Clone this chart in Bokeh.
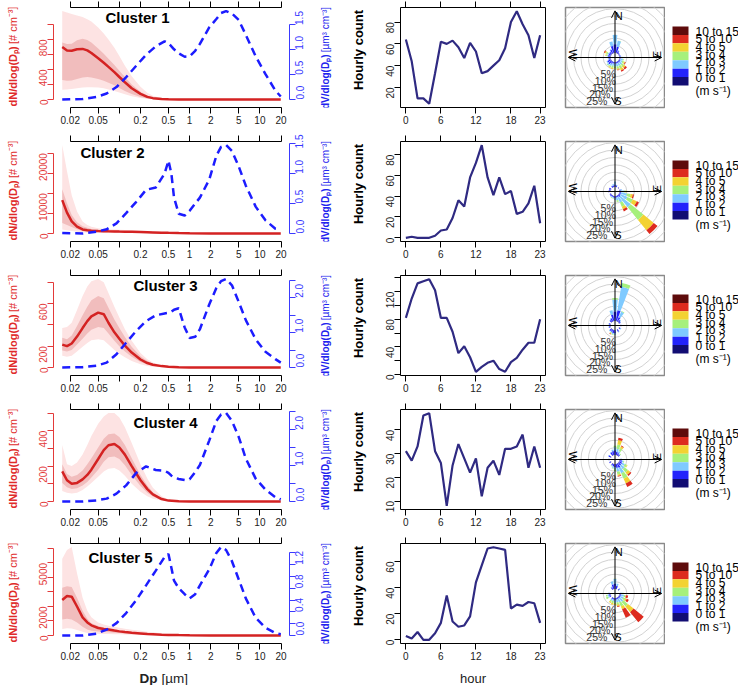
import math
from bokeh.plotting import figure
from bokeh.models import (Range1d, LinearAxis, LogAxis, FixedTicker, Label,
                          Arrow, OpenHead, ColumnDataSource)
from bokeh.layouts import row, column
from bokeh.embed import file_html
from bokeh.resources import INLINE
from bokeh.core.properties import value

FONT = "Liberation Sans"

# ---------------- number size distributions (dN/dlogDp, # cm-3) ----------------
DP = [0.0154, 0.018, 0.021, 0.025, 0.03, 0.035, 0.04, 0.05, 0.06, 0.07, 0.085, 0.1,
      0.12, 0.15, 0.2, 0.25, 0.3, 0.4, 0.5, 0.7, 1.0, 2.0, 5.0, 10.0, 19.8]

N_MEDIAN = [
    [700, 655, 650, 670, 675, 655, 620, 550, 490, 435, 365, 300, 230, 150, 75, 35, 18, 7, 3, 1, 0, 0, 0, 0, 0],
    [8300, 5200, 3000, 1700, 1000, 800, 700, 620, 580, 550, 520, 490, 460, 420, 360, 310, 270, 210, 160, 100, 55, 12, 2, 0, 0],
    [215, 200, 225, 290, 370, 435, 480, 515, 500, 420, 330, 270, 205, 140, 75, 42, 26, 13, 7, 2, 0, 0, 0, 0, 0],
    [170, 120, 100, 105, 125, 150, 180, 240, 290, 318, 325, 305, 265, 200, 120, 70, 40, 14, 5, 1, 0, 0, 0, 0, 0],
    [2450, 2720, 2680, 2000, 1250, 900, 700, 520, 450, 410, 340, 285, 240, 190, 140, 100, 85, 60, 42, 30, 20, 8, 2, 0, 0],
]
N_INNER_HI = [
    [760, 740, 745, 790, 810, 795, 760, 680, 610, 545, 460, 385, 300, 200, 105, 52, 28, 10, 4, 1, 0, 0, 0, 0, 0],
    [11000, 7500, 4600, 2800, 1800, 1400, 1150, 950, 860, 800, 750, 700, 650, 580, 500, 430, 370, 290, 220, 140, 75, 18, 3, 0, 0],
    [280, 265, 300, 390, 490, 570, 630, 670, 650, 560, 450, 370, 285, 195, 105, 60, 36, 17, 9, 3, 0, 0, 0, 0, 0],
    [210, 155, 140, 150, 175, 210, 245, 305, 355, 380, 385, 365, 320, 245, 150, 90, 52, 19, 7, 1, 0, 0, 0, 0, 0],
    [3300, 3400, 3350, 2600, 1700, 1150, 850, 650, 560, 500, 420, 360, 300, 240, 180, 130, 105, 75, 55, 35, 25, 10, 3, 0, 0],
]
N_INNER_LO = [
    [260, 250, 255, 275, 295, 300, 295, 275, 250, 225, 190, 155, 115, 75, 35, 15, 7, 2, 1, 0, 0, 0, 0, 0, 0],
    [2600, 2100, 1600, 1050, 650, 480, 400, 350, 330, 320, 310, 300, 280, 250, 210, 180, 150, 110, 80, 50, 25, 5, 0, 0, 0],
    [160, 150, 165, 215, 270, 320, 355, 380, 370, 320, 250, 200, 150, 100, 52, 28, 16, 7, 3, 1, 0, 0, 0, 0, 0],
    [105, 80, 70, 75, 90, 110, 135, 180, 225, 250, 255, 240, 205, 150, 88, 50, 28, 9, 3, 0, 0, 0, 0, 0, 0],
    [1100, 1150, 1100, 900, 600, 420, 330, 270, 240, 220, 190, 170, 140, 115, 85, 60, 50, 35, 25, 15, 8, 2, 0, 0, 0],
]
N_OUTER_HI = [
    [1180, 1160, 1140, 1120, 1100, 1070, 1040, 960, 880, 800, 690, 580, 450, 310, 170, 90, 50, 18, 7, 2, 0, 0, 0, 0, 0],
    [22000, 15500, 9500, 5500, 3000, 2100, 1700, 1300, 1150, 1050, 980, 920, 850, 760, 650, 560, 480, 370, 290, 180, 100, 25, 4, 0, 0],
    [370, 380, 420, 540, 670, 760, 810, 830, 800, 700, 570, 470, 360, 250, 135, 78, 46, 22, 11, 3, 0, 0, 0, 0, 0],
    [320, 210, 200, 220, 265, 320, 370, 440, 480, 500, 500, 475, 420, 330, 210, 130, 78, 30, 11, 2, 0, 0, 0, 0, 0],
    [5300, 5900, 6100, 4300, 2600, 1700, 1250, 900, 750, 680, 600, 540, 470, 400, 330, 260, 220, 160, 120, 80, 55, 20, 5, 0, 0],
]
N_OUTER_LO = [
    [130, 135, 140, 150, 160, 165, 165, 160, 150, 135, 115, 95, 70, 45, 20, 9, 4, 1, 0, 0, 0, 0, 0, 0, 0],
    [1000, 800, 600, 420, 300, 240, 210, 190, 180, 170, 160, 150, 140, 120, 100, 80, 65, 45, 30, 15, 5, 0, 0, 0, 0],
    [110, 100, 110, 150, 195, 230, 255, 265, 255, 215, 165, 130, 95, 60, 30, 15, 8, 3, 1, 0, 0, 0, 0, 0, 0],
    [60, 50, 45, 50, 65, 85, 105, 140, 170, 185, 190, 175, 145, 100, 55, 30, 16, 5, 2, 0, 0, 0, 0, 0, 0],
    [450, 500, 480, 380, 250, 180, 140, 120, 110, 100, 90, 80, 70, 55, 40, 30, 25, 15, 10, 5, 2, 0, 0, 0, 0],
]

# ---------------- volume size distributions (dV/dlogDp, um3 cm-3) ----------------
DPV = [0.0154, 0.03, 0.047, 0.066, 0.091, 0.125, 0.174, 0.24, 0.33, 0.44, 0.5, 0.55, 0.6, 0.7,
       0.85, 1.0, 1.2, 1.4, 1.9, 2.4, 2.8, 3.3, 4.0, 5.0, 6.3, 8.7, 12.0, 16.6, 19.8]
V_MEAN = [
    [0.0, 0.01, 0.05, 0.12, 0.25, 0.45, 0.68, 0.9, 1.07, 1.17, 1.13, 1.07, 1.01, 0.93, 0.86, 0.87, 0.98, 1.12, 1.45, 1.62, 1.74, 1.78, 1.73, 1.6, 1.3, 0.87, 0.51, 0.18, 0.06],
    [0.01, 0.0, 0.03, 0.07, 0.17, 0.34, 0.53, 0.73, 0.77, 1.0, 1.22, 1.0, 0.6, 0.33, 0.3, 0.38, 0.5, 0.6, 0.9, 1.3, 1.45, 1.48, 1.38, 1.12, 0.8, 0.45, 0.22, 0.08, 0.06],
    [0.0, 0.01, 0.05, 0.14, 0.38, 0.71, 1.05, 1.33, 1.5, 1.55, 1.57, 1.6, 1.66, 1.7, 1.15, 0.85, 0.88, 1.1, 1.81, 2.28, 2.48, 2.54, 2.36, 1.88, 1.36, 0.81, 0.45, 0.24, 0.14],
    [0.0, 0.0, 0.03, 0.08, 0.22, 0.45, 0.8, 0.98, 0.88, 0.86, 0.8, 0.72, 0.67, 0.63, 0.6, 0.62, 0.82, 1.02, 1.7, 2.25, 2.43, 2.47, 2.25, 1.8, 1.2, 0.64, 0.33, 0.12, 0.06],
    [0.0, 0.0, 0.03, 0.1, 0.21, 0.38, 0.6, 0.85, 1.1, 1.33, 1.38, 1.15, 0.93, 0.8, 0.7, 0.63, 0.7, 0.85, 1.12, 1.4, 1.5, 1.45, 1.26, 0.95, 0.63, 0.3, 0.13, 0.04, 0.02],
]

X_TICKS = [0.02, 0.05, 0.1, 0.2, 0.5, 1, 2, 5, 10, 20]
X_LABELS = ["0.02", "0.05", "", "0.2", "0.5", "1", "2", "5", "10", "20"]

RED_TICKS = [[0, 200, 400, 600, 800, 1000], [0, 5000, 10000, 15000, 20000], [0, 200, 400, 600, 800],
             [0, 100, 200, 300, 400, 500], [0, 1000, 2000, 3000, 4000, 5000, 6000]]
RED_LABELS = [["0", "", "400", "", "800", ""], ["0", "", "10000", "", "20000"], ["0", "200", "", "600", ""],
              ["0", "", "200", "", "400", ""], ["0", "", "2000", "", "", "5000", ""]]
BLUE_TICKS = [[0, 0.5, 1.0, 1.5], [0, 0.5, 1.0, 1.5], [0, 0.5, 1.0, 1.5, 2.0, 2.5],
              [0, 0.5, 1.0, 1.5, 2.0, 2.5], [0, 0.2, 0.4, 0.6, 0.8, 1.0, 1.2, 1.4]]
BLUE_LABELS = [["0.0", "0.5", "1.0", "1.5"], ["0.0", "0.5", "1.0", "1.5"], ["0.0", "", "1.0", "", "2.0", ""],
               ["0.0", "", "1.0", "", "2.0", ""], ["0.0", "", "0.4", "", "0.8", "", "1.2", ""]]

CLUSTERS = ["Cluster 1", "Cluster 2", "Cluster 3", "Cluster 4", "Cluster 5"]

# ---------------- diurnal (hourly) counts ----------------
HOURS = list(range(24))
HOURLY = [
    [64, 44, 10, 10, 5, 33, 62, 60, 63, 57, 47, 61, 53, 33, 35, 40, 45, 56, 80, 90, 78, 68, 47, 68],
    [0, 1, 0, 0, 0, 2, 7, 8, 19, 36, 30, 58, 72, 89, 58, 41, 58, 42, 45, 23, 25, 33, 50, 14],
    [82, 110, 132, 135, 138, 122, 82, 82, 62, 31, 41, 25, 4, 11, 17, 20, 8, 4, 18, 24, 36, 46, 46, 80],
    [31, 27, 33, 46, 47, 31, 26, 8, 25, 34, 28, 22, 28, 12, 24, 27, 21, 32, 32, 33, 38, 24, 33, 24],
    [3, 1, 6, 0, 0, 5, 13, 34, 14, 10, 11, 18, 44, 57, 70, 71, 70, 69, 24, 27, 26, 29, 28, 13],
]
HOUR_TICKS = [0, 6, 12, 18, 23]
HOUR_Y_TICKS = [[20, 40, 60, 80], [0, 20, 40, 60, 80], [0, 20, 40, 60, 80, 100, 120, 140],
                [10, 20, 30, 40], [0, 20, 40, 60]]
HOUR_Y_LABELS = [["20", "40", "60", "80"], ["0", "20", "40", "60", "80"],
                 ["0", "", "40", "", "80", "", "120", ""], ["10", "20", "30", "40"], ["0", "20", "40", "60"]]

# ---------------- wind roses: direction (deg) -> frequency (%) per speed bin ----------------
SPEED_BINS = ["0 to 1", "1 to 2", "2 to 3", "3 to 4", "4 to 5", "5 to 10", "10 to 15"]
ROSE_1 = {0: [0.5, 5.5, 6.3, 0, 0, 0, 0], 15: [0.4, 4, 4, 0.3, 0, 0, 0], 30: [0.3, 1.5, 0.5, 0, 0, 0, 0],
          45: [0.2, 0.8, 0, 0, 0, 0, 0], 60: [0.2, 0.5, 0, 0, 0, 0, 0], 75: [0.2, 0.8, 0.3, 0, 0, 0, 0],
          90: [0.2, 0.8, 1, 0, 0, 0, 0], 105: [0.2, 0.8, 1.5, 0.5, 0, 0, 0], 120: [0.2, 0.8, 1.5, 1.2, 0.8, 0.5, 0],
          135: [0.2, 1, 2, 1.5, 1.5, 1.2, 0], 150: [0.2, 1, 2, 2, 1.5, 0.8, 0], 165: [0.2, 1, 2, 1.5, 0.8, 0.3, 0],
          180: [0.2, 1, 2, 1, 0.3, 0, 0], 195: [0.2, 1, 1.5, 1.5, 0.8, 0, 0], 210: [0.2, 1.5, 1.5, 1, 0.5, 0, 0],
          225: [0.3, 2.5, 1, 0.5, 0, 0, 0], 240: [0.3, 2.5, 0.5, 0, 0, 0, 0], 255: [0.2, 1.2, 0.3, 0, 0, 0, 0],
          270: [0.3, 1.5, 0.3, 0, 0, 0, 0], 285: [0.3, 1.5, 0.5, 0.8, 0.5, 0, 0], 300: [0.3, 1.5, 0.8, 1, 1, 0.6, 0],
          315: [0.3, 1.5, 0.3, 0, 0, 0, 0], 330: [0.3, 2.5, 0.5, 0, 0, 0, 0], 345: [0.4, 4.5, 3, 0, 0, 0, 0]}
ROSE_2 = {0: [0.2, 1.5, 2, 0, 0, 0, 0], 15: [0.2, 1, 0.5, 0, 0, 0, 0], 45: [0.2, 0.5, 0, 0, 0, 0, 0],
          75: [0.2, 0.8, 0.8, 0, 0, 0, 0], 90: [0.2, 1, 2, 1, 0.5, 0, 0], 105: [0.2, 1, 4, 2.5, 1.5, 0.8, 0],
          120: [0.2, 1, 5, 4, 3, 1.5, 0], 135: [0.2, 1.5, 9, 11, 9, 3.3, 0], 150: [0.2, 1, 4, 3, 2, 1.5, 0],
          165: [0.2, 1, 2, 1, 0, 0, 0], 180: [0.2, 1.5, 1, 0, 0, 0, 0], 195: [0.2, 1, 0.5, 0.3, 0, 0, 0],
          210: [0.2, 0.8, 0.5, 0.5, 0, 0, 0], 225: [0.2, 1, 0.3, 0, 0, 0, 0], 240: [0.2, 0.8, 0, 0, 0, 0, 0],
          270: [0.2, 1.5, 0, 0, 0, 0, 0], 285: [0.2, 1, 0, 0, 0, 0, 0], 300: [0.2, 1.2, 0, 0, 0, 0, 0],
          330: [0.2, 1, 0.3, 0, 0, 0, 0], 345: [0.2, 1, 1, 0, 0, 0, 0]}
ROSE_3 = {0: [0.5, 6, 8, 1, 0, 0, 0], 15: [0.5, 7, 16, 2.5, 0, 0, 0], 30: [0.3, 3, 4, 0.5, 0, 0, 0],
          45: [0.3, 1.5, 0.5, 0, 0, 0, 0], 60: [0.2, 1, 0.3, 0, 0, 0, 0], 90: [0.2, 1, 0.3, 0, 0, 0, 0],
          120: [0.2, 1, 0.5, 0, 0, 0, 0], 150: [0.2, 1.5, 0.5, 0, 0, 0, 0], 180: [0.3, 2, 1, 0, 0, 0, 0],
          195: [0.3, 2, 0.8, 0.5, 0, 0, 0], 210: [0.3, 1.5, 0.5, 0.5, 0.5, 0.3, 0], 225: [0.3, 1.5, 0.5, 0, 0, 0, 0],
          255: [0.2, 1, 0.3, 0, 0, 0, 0], 285: [0.2, 1, 0.3, 0, 0, 0, 0], 315: [0.2, 1.5, 0.3, 0, 0, 0, 0],
          330: [0.3, 2, 0.5, 0, 0, 0, 0], 345: [0.5, 4, 3, 0, 0, 0, 0]}
ROSE_4 = {0: [0.3, 3, 2, 1, 0, 0, 0], 15: [0.3, 2, 2, 3, 3, 1.6, 0], 30: [0.3, 1.5, 1.5, 2, 1.5, 0.5, 0],
          45: [0.3, 1, 0.5, 0.5, 0, 0, 0], 90: [0.3, 1, 0.5, 0, 0, 0, 0], 105: [0.3, 1.5, 1, 0.5, 0, 0, 0],
          120: [0.3, 2, 2, 1.5, 0.5, 0, 0], 135: [0.3, 2, 3, 3, 2, 1, 0], 150: [0.3, 3, 4, 4, 3.5, 2.5, 0],
          165: [0.3, 2.5, 2.5, 2, 1, 0.5, 0], 180: [0.3, 2, 1.5, 1, 0, 0, 0], 195: [0.3, 1.5, 1, 0.5, 0, 0, 0],
          210: [0.3, 1, 0.5, 0.3, 0, 0, 0], 240: [0.3, 1, 0, 0, 0, 0, 0], 270: [0.3, 1, 0.3, 0, 0, 0, 0],
          300: [0.3, 1.5, 0.5, 0, 0, 0, 0], 330: [0.3, 2, 0.5, 0, 0, 0, 0], 345: [0.3, 2.5, 1, 0, 0, 0, 0]}
ROSE_5 = {0: [0.3, 3.5, 3, 0.2, 0, 0, 0], 15: [0.3, 2, 1.5, 0, 0, 0, 0], 45: [0.2, 1, 0.5, 0, 0, 0, 0],
          90: [0.2, 1, 1, 0.5, 0, 0, 0], 105: [0.2, 1, 2, 1, 0.3, 1.5, 0], 120: [0.2, 1, 2, 1.5, 1, 1.5, 0],
          135: [0.2, 1, 3, 4, 5, 8.8, 0], 150: [0.2, 1, 2.5, 3, 2, 6.2, 0], 165: [0.2, 1, 2, 1.5, 1, 0.5, 0],
          180: [0.2, 1.5, 1.5, 1, 0.5, 0, 0], 195: [0.2, 1, 1, 1.5, 1, 0, 0], 210: [0.2, 1, 1, 1, 0.8, 0, 0],
          240: [0.2, 1, 1, 1.5, 0, 0, 0], 255: [0.2, 1, 1, 1, 0, 0, 0], 270: [0.2, 1, 0.5, 0, 0, 0, 0],
          330: [0.2, 1.5, 0.5, 0, 0, 0, 0], 345: [0.3, 3, 2, 0, 0, 0, 0]}
ROSES = [ROSE_1, ROSE_2, ROSE_3, ROSE_4, ROSE_5]
RING_PCTS = [5, 10, 15, 20, 25]
LEGEND_LABELS = ["10 to 15", "5 to 10", "4 to 5", "3 to 4", "2 to 3", "1 to 2", "0 to 1"]

# ---------------- style / layout ----------------
RED_LINE = "#d42222"
RED_AX = "#e33a3a"
BLUE_LINE = "#1c1cff"
BLUE_AX = "#3a3aff"
BAND_OUT = "#fde3e3"
BAND_IN = "#f1bdbd"
HOUR_LINE = "#2f2a82"
ROSE_COLORS = ["#120d73", "#2323fb", "#7fcaff", "#a6f07c", "#f3d232", "#dd2b1f", "#5e0b0b"]

W_STRIP_A, W_SIZE, W_STRIP_B, W_HOUR, W_ROSE, W_LEG = 26, 288, 54, 182, 115, 73
SIZE_L, SIZE_R = 27, 25
HOUR_L, HOUR_R = 32, 5
ROSE_L, ROSE_R = 15, 1
ROW_H, FOOT_H = 134, 15
TOP, FRAME_H = 7, 100
ROSE_OFF = 3.0          # inner hole of the rose (in % units)
ROSE_PX = 1.48          # px per % unit
TITLE_X = [84, 59, 112, 112, 67]
TITLE_DY = [10, 11, 10, 13, 14]


def style_axis(ax, ticks, labels, color, size="10px", orient=None, standoff=3, bounds=None):
    ax.ticker = FixedTicker(ticks=ticks, minor_ticks=[])
    ax.major_label_overrides = {t: l for t, l in zip(ticks, labels)}
    ax.major_tick_out = 6
    ax.major_tick_in = 0
    ax.minor_tick_line_color = None
    ax.axis_line_color = color
    ax.major_tick_line_color = color
    ax.major_label_text_color = color
    ax.major_label_text_font = FONT
    ax.major_label_text_font_size = size
    ax.major_label_standoff = standoff
    if orient is not None:
        ax.major_label_orientation = orient
    if bounds is not None:
        ax.bounds = bounds


def top_ticks(ax, ticks, bounds=None):
    ax.ticker = FixedTicker(ticks=ticks, minor_ticks=[])
    ax.major_label_overrides = {t: "" for t in ticks}
    ax.major_label_text_font_size = "1px"
    ax.major_label_text_color = None
    ax.major_label_standoff = 0
    ax.major_tick_out = 6
    ax.major_tick_in = 0
    ax.minor_tick_line_color = None
    ax.axis_line_color = "black"
    ax.major_tick_line_color = "black"
    if bounds is not None:
        ax.bounds = bounds


def blank_fig(w, h):
    p = figure(width=w, height=h, x_range=Range1d(0, w), y_range=Range1d(0, h),
               output_backend="svg", toolbar_location=None, x_axis_location=None, y_axis_location=None,
               min_border_left=0, min_border_right=0, min_border_top=0, min_border_bottom=0)
    p.grid.visible = False
    p.outline_line_color = None
    return p


def two_part_title(p, x, y, bold, normal, color, size, gap=3):
    p.text(x=[x], y=[y], text=[bold], angle=[math.pi / 2], text_font=value(FONT),
           text_font_size=value(size), text_font_style="bold", text_align="right",
           text_baseline="middle", text_color=color)
    p.text(x=[x], y=[y + gap], text=[normal], angle=[math.pi / 2], text_font=value(FONT),
           text_font_size=value(size), text_align="left", text_baseline="middle", text_color=color)


def strip_a(H):
    p = blank_fig(W_STRIP_A, H)
    two_part_title(p, 12, H - 52, "dN/dlog(D\u209a)", "[# cm\u207b\u00b3]", "#e02a2a", "11px")
    return p


def strip_b(H):
    p = blank_fig(W_STRIP_B, H)
    two_part_title(p, 11, H - 63, "dV/dlog(D\u209a)", "[\u00b5m\u00b3 cm\u207b\u00b3]", "#2222ee", "10px")
    p.text(x=[44], y=[H - TOP - FRAME_H / 2.0], text=["Hourly count"], angle=[math.pi / 2],
           text_font=value(FONT), text_font_size=value("13px"), text_font_style="bold",
           text_align="center", text_baseline="middle", text_color="black")
    return p


def size_fig(i, H):
    bb = H - TOP - FRAME_H
    lx0, lx1 = math.log10(DP[0]), math.log10(DP[-1])
    sp = lx1 - lx0
    mr = max(N_OUTER_HI[i])
    mb = max(V_MEAN[i])
    below = 8.0 / (FRAME_H - 8.0)
    p = figure(width=W_SIZE, height=H, x_axis_type="log",
               x_range=Range1d(10 ** (lx0 - 0.04 * sp), 10 ** (lx1 + 0.04 * sp)),
               y_range=Range1d(-below * 1.04 * mr, 1.04 * mr),
               output_backend="svg", toolbar_location=None,
               min_border_left=SIZE_L, min_border_right=SIZE_R, min_border_top=TOP, min_border_bottom=bb)
    p.extra_y_ranges = {"vol": Range1d(-below * 1.04 * mb, 1.04 * mb)}
    p.grid.visible = False
    p.outline_line_color = None

    p.varea(x=DP, y1=N_OUTER_LO[i], y2=N_OUTER_HI[i], fill_color=BAND_OUT)
    p.varea(x=DP, y1=N_INNER_LO[i], y2=N_INNER_HI[i], fill_color=BAND_IN)
    p.line(DP, N_MEDIAN[i], line_color=RED_LINE, line_width=2.5)
    p.line(DPV, V_MEAN[i], y_range_name="vol", line_color=BLUE_LINE, line_width=2.5, line_dash="8 5")

    style_axis(p.xaxis[0], X_TICKS, X_LABELS, "black", standoff=2, bounds=(X_TICKS[0], X_TICKS[-1]))
    p.xaxis[0].major_label_text_color = "#222222"
    style_axis(p.yaxis[0], RED_TICKS[i], RED_LABELS[i], RED_AX, orient=math.pi / 2, standoff=4,
               bounds=(RED_TICKS[i][0], RED_TICKS[i][-1]))
    ra = LinearAxis(y_range_name="vol")
    style_axis(ra, BLUE_TICKS[i], BLUE_LABELS[i], BLUE_AX, orient=math.pi / 2, standoff=4,
               bounds=(BLUE_TICKS[i][0], BLUE_TICKS[i][-1]))
    p.add_layout(ra, "right")
    ta = LogAxis()
    top_ticks(ta, X_TICKS, bounds=(X_TICKS[0], X_TICKS[-1]))
    p.add_layout(ta, "above")

    p.add_layout(Label(x=TITLE_X[i], y=FRAME_H - TITLE_DY[i], x_units="screen", y_units="screen",
                       text=CLUSTERS[i], text_align="center", text_baseline="middle", text_font=FONT,
                       text_font_size="15px", text_font_style="bold", text_color="black"))
    return p


def hour_fig(i, H):
    bb = H - TOP - FRAME_H
    y = HOURLY[i]
    lo, hi = min(y), max(y)
    r = hi - lo
    x0, x1 = HOURS[0], HOURS[-1]
    p = figure(width=W_HOUR, height=H,
               x_range=Range1d(x0 - 0.04 * (x1 - x0), x1 + 0.04 * (x1 - x0)),
               y_range=Range1d(lo - 0.04 * r, hi + 0.04 * r),
               output_backend="svg", toolbar_location=None,
               min_border_left=HOUR_L, min_border_right=HOUR_R, min_border_top=TOP, min_border_bottom=bb)
    p.grid.visible = False
    p.outline_line_color = "black"
    p.outline_line_width = 1
    p.line(HOURS, y, line_color=HOUR_LINE, line_width=2.2)
    style_axis(p.xaxis[0], HOUR_TICKS, [str(h) for h in HOUR_TICKS], "black", standoff=2)
    p.xaxis[0].axis_line_color = None
    p.xaxis[0].major_label_text_color = "#222222"
    style_axis(p.yaxis[0], HOUR_Y_TICKS[i], HOUR_Y_LABELS[i], "black", orient=math.pi / 2, standoff=4)
    p.yaxis[0].axis_line_color = None
    p.yaxis[0].major_label_text_color = "#222222"
    ta = LinearAxis()
    top_ticks(ta, HOUR_TICKS)
    ta.axis_line_color = None
    p.add_layout(ta, "above")
    return p


def rose_fig(i, H):
    bb = H - TOP - FRAME_H
    fw = W_ROSE - ROSE_L - ROSE_R
    rx = fw / 2.0 / ROSE_PX
    ry = FRAME_H / 2.0 / ROSE_PX
    p = figure(width=W_ROSE, height=H, x_range=Range1d(-rx, rx), y_range=Range1d(-ry, ry),
               output_backend="svg", toolbar_location=None, x_axis_location=None, y_axis_location=None,
               min_border_left=ROSE_L, min_border_right=ROSE_R, min_border_top=TOP, min_border_bottom=bb)
    p.grid.visible = False
    p.outline_line_color = "#8a8a8a"
    p.outline_line_width = 1.5
    rings = [ROSE_OFF + 5 * k for k in range(1, 10)]
    p.circle(x=[0] * len(rings), y=[0] * len(rings), radius=rings, fill_color=None,
             line_color="#d2d2d2", line_width=1)
    data = dict(inner=[], outer=[], start=[], end=[], color=[])
    half = 6.0
    for d, fr in ROSES[i].items():
        cum = ROSE_OFF
        for j, f in enumerate(fr):
            if f <= 0:
                continue
            data["inner"].append(cum)
            data["outer"].append(cum + f)
            data["start"].append(math.radians(90 - d - half))
            data["end"].append(math.radians(90 - d + half))
            data["color"].append(ROSE_COLORS[j])
            cum += f
    src = ColumnDataSource(data)
    p.annular_wedge(x=0, y=0, inner_radius="inner", outer_radius="outer", start_angle="start",
                    end_angle="end", fill_color="color", line_color=None, source=src)
    L = 31.5
    for ex, ey in [(0, L), (L, 0), (0, -L), (-L, 0)]:
        p.add_layout(Arrow(end=OpenHead(size=7, line_color="black", line_width=1),
                           x_start=0, y_start=0, x_end=ex, y_end=ey, line_color="black", line_width=1))
    p.text(x=[2.5], y=[28.0], text=["N"], text_font=value(FONT), text_font_size=value("11px"),
           text_align="center", text_baseline="middle", text_color="black")
    p.text(x=[28.5], y=[2.0], text=["E"], angle=[math.pi / 2], text_font=value(FONT),
           text_font_size=value("11px"), text_align="center", text_baseline="middle", text_color="black")
    p.text(x=[2.0], y=[-29.5], text=["S"], text_font=value(FONT), text_font_size=value("11px"),
           text_align="center", text_baseline="middle", text_color="black")
    p.text(x=[-28.5], y=[2.0], text=["W"], angle=[-math.pi / 2], text_font=value(FONT),
           text_font_size=value("11px"), text_align="center", text_baseline="middle", text_color="black")
    ang = math.radians(90 - 202.5)
    lab_r = [ROSE_OFF + v + 4 for v in RING_PCTS]
    p.text(x=[r * math.cos(ang) for r in lab_r], y=[r * math.sin(ang) for r in lab_r],
           text=["%d%%" % v for v in RING_PCTS], text_font=value(FONT), text_font_size=value("10.5px"),
           text_align="center", text_baseline="middle", text_color="#333333")
    return p


def legend_fig(H):
    bb = H - TOP - FRAME_H
    p = figure(width=W_LEG, height=H, x_range=Range1d(0, W_LEG), y_range=Range1d(FRAME_H, 0),
               output_backend="svg", toolbar_location=None, x_axis_location=None, y_axis_location=None,
               min_border_left=0, min_border_right=0, min_border_top=TOP, min_border_bottom=bb)
    p.grid.visible = False
    p.outline_line_color = None
    n = len(LEGEND_LABELS)
    step = 8.43
    tops = [19 + k * step for k in range(n)]
    cols = list(reversed(ROSE_COLORS))
    p.quad(left=[7] * n, right=[23] * n, top=tops, bottom=[t + step for t in tops],
           fill_color=cols, line_color=None)
    ty = [24 + k * 7.7 for k in range(n)] + [83.7]
    p.text(x=[30] * (n + 1), y=ty, text=LEGEND_LABELS + ["(m s\u207b\u00b9)"], text_font=value(FONT),
           text_font_size=value("12px"), text_align="left", text_baseline="middle", text_color="black")
    return p


def footer():
    total = W_STRIP_A + W_SIZE + W_STRIP_B + W_HOUR + W_ROSE + W_LEG
    p = blank_fig(total, FOOT_H)
    x_dp = 157
    p.text(x=[x_dp], y=[7.5], text=["Dp"], text_font=value(FONT), text_font_size=value("13.5px"),
           text_font_style="bold", text_align="right", text_baseline="middle", text_color="#222222")
    p.text(x=[x_dp + 4], y=[7.5], text=["[\u00b5m]"], text_font=value(FONT), text_font_size=value("13.5px"),
           text_align="left", text_baseline="middle", text_color="#222222")
    hour_frame_w = W_HOUR - HOUR_L - HOUR_R
    x_hour = W_STRIP_A + W_SIZE + W_STRIP_B + HOUR_L + hour_frame_w / 2.0
    p.text(x=[x_hour], y=[7.5], text=["hour"], text_font=value(FONT), text_font_size=value("13px"),
           text_align="center", text_baseline="middle", text_color="#222222")
    return p


rows = []
for i in range(5):
    H = ROW_H
    rows.append(row(strip_a(H), size_fig(i, H), strip_b(H), hour_fig(i, H), rose_fig(i, H), legend_fig(H)))
rows.append(footer())

layout = column(*rows)
open("out.html", "w").write(file_html(layout, INLINE))
